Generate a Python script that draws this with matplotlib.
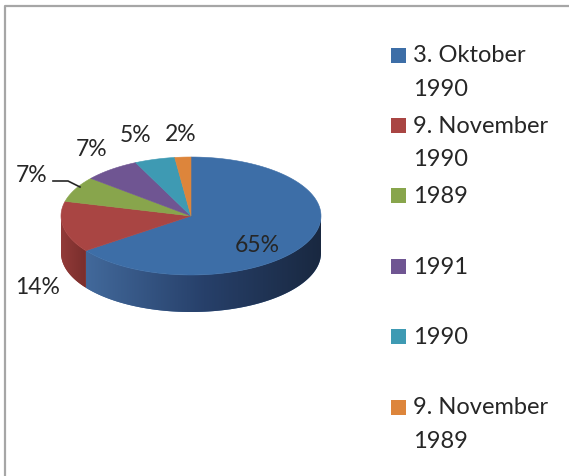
import numpy as np
import matplotlib.pyplot as plt
import matplotlib.colors as mcolors
from matplotlib.patches import Polygon, Rectangle

plt.rcParams['font.family'] = ['Lato', 'DejaVu Sans']

# data
labels = ["3. Oktober\n1990", "9. November\n1990", "1989", "1991", "1990", "9. November\n1989"]
shares = [65, 14, 7, 7, 5, 2]
pct_text = ["65%", "14%", "7%", "7%", "5%", "2%"]
top_colors = ["#3D6EA7", "#A94543", "#88A54C", "#6F5592", "#3E9AB3", "#DD853B"]
side_light = ["#42699B", "#923B39", "#6F8A3D", "#5A4578", "#317E93", "#B86C2F"]
side_mid = ["#27406A", "#853432", "#657F37", "#52406E", "#2C7386", "#A9632B"]
side_dark = ["#192840", "#7A2F2D", "#5C7333", "#4A3963", "#276879", "#9A5A27"]

# layout (pixels, y downwards)
W, H = 569, 477
cx, cy, rx, ry, depth = 191, 217, 130, 59, 37
label_xy = [(257, 246), (38, 288), (32, 176), (92, 150), (136, 136), (181, 135)]

fig = plt.figure(figsize=(W / 100, H / 100), dpi=100)
ax = fig.add_axes([0, 0, 1, 1])
ax.set_xlim(0, W)
ax.set_ylim(H, 0)
ax.axis('off')

# frame
ax.plot([5.5, 5.5, W], [H, 6.5, 6.5], color="#A6A6A6", lw=1.6, solid_capstyle='butt')

def pt(theta, dy=0.0):
    return cx + rx * np.cos(theta), cy - ry * np.sin(theta) + dy

frac = np.array(shares) / sum(shares)
ends = np.deg2rad(90 - 360 * np.cumsum(frac))
starts = np.concatenate([[np.deg2rad(90)], ends[:-1]])

# side walls (front half only), shaded left -> right
for i in range(len(shares)):
    a, b = starts[i], ends[i]
    lo, hi = b % (2 * np.pi), a % (2 * np.pi)
    if hi <= lo:
        hi += 2 * np.pi
    s0, s1 = max(lo, np.pi), min(hi, 2 * np.pi)
    if s1 <= s0:
        continue
    t = np.linspace(s0, s1, 150)
    xs, ys = pt(t)
    xb, yb = pt(t[::-1], depth)
    poly = Polygon(np.column_stack([np.r_[xs, xb], np.r_[ys, yb]]),
                   closed=True, fc=side_light[i], ec='none', zorder=1)
    ax.add_patch(poly)
    x0, x1 = xs.min(), xs.max()
    cmap = mcolors.LinearSegmentedColormap.from_list(
        "s", [(0, side_light[i]), (0.5, side_mid[i]), (1, side_dark[i])])
    grad = np.linspace(0, 1, 256)[None, :]
    im = ax.imshow(grad, cmap=cmap, extent=(x0, x1, ys.max() + depth + 2, ys.min() - 2),
                   aspect='auto', interpolation='bilinear', zorder=1.5)
    im.set_clip_path(poly)
ax.set_xlim(0, W)
ax.set_ylim(H, 0)

# top faces
for i in range(len(shares)):
    t = np.linspace(starts[i], ends[i], 120)
    xs, ys = pt(t)
    ax.add_patch(Polygon(np.column_stack([np.r_[cx, xs], np.r_[cy, ys]]),
                         closed=True, fc=top_colors[i], ec=top_colors[i], lw=0.4, zorder=2))

# data labels
for (x, y), s in zip(label_xy, pct_text):
    ax.text(x, y, s, fontsize=16.5, color="#262626", ha='center', va='center', zorder=3)
ax.plot([53, 68, 80], [182, 182, 188], color="#262626", lw=1.2, zorder=3)

# legend
for i, lab in enumerate(labels):
    y0 = 56 + 70.4 * i
    ax.add_patch(Rectangle((391, y0 - 7.5), 15, 15, fc=top_colors[i], ec='none'))
    for j, line in enumerate(lab.split("\n")):
        ax.text(413, y0 + 33.5 * j, line, fontsize=17, color="#262626",
                ha='left', va='center')

fig.savefig("out.png", dpi=100)
